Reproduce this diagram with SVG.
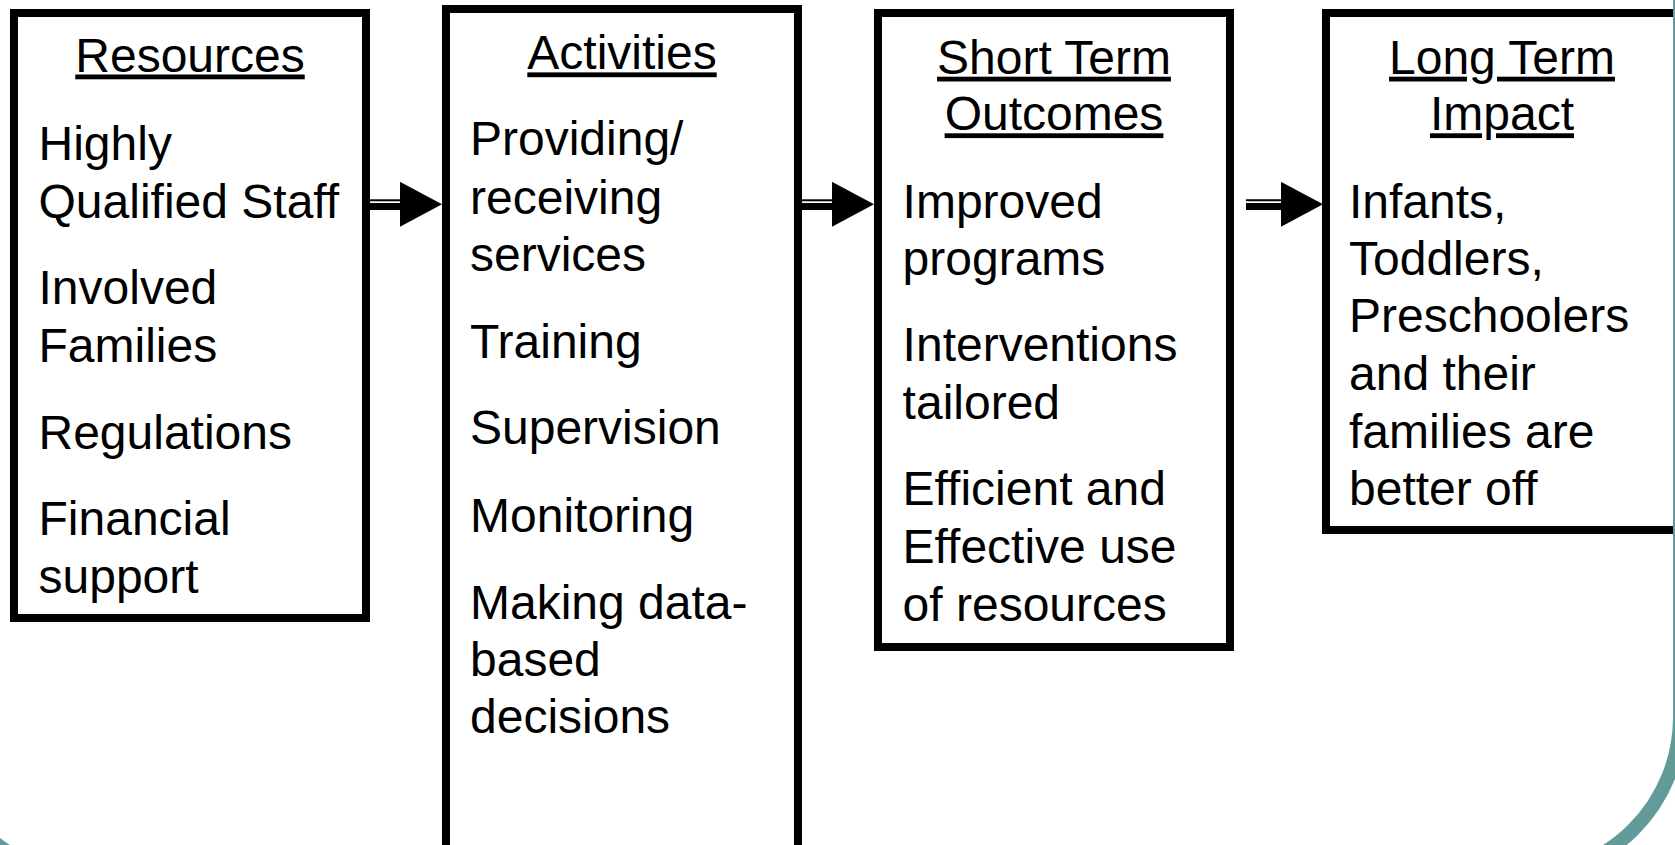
<svg xmlns="http://www.w3.org/2000/svg" width="1675" height="845" viewBox="0 0 1675 845">
<style>
  .box { fill: #ffffff; stroke: #000000; stroke-width: 8; }
  .t { font-family: "Liberation Sans", Arial, sans-serif; font-size: 48px; fill: #000000; }
  .title { text-anchor: middle; text-decoration: underline; }
  .thin { stroke: #000000; stroke-width: 2; }
  .thick { stroke: #000000; stroke-width: 7; }
  .frame { fill: none; stroke: #629B99; stroke-width: 14; }
</style>
<defs>
  <marker id="head" viewBox="0 0 42 45" refX="0" refY="24.7" markerWidth="42" markerHeight="45" markerUnits="userSpaceOnUse" orient="auto">
    <path d="M0,0 L42,22.5 L0,45 Z" fill="#000000"/>
  </marker>
</defs>
<rect x="0" y="0" width="1675" height="845" fill="#ffffff"/>

<g id="resources">
  <rect class="box" x="14" y="13" width="352" height="605"/>
  <text class="t title" x="190" y="71.5">Resources</text>
  <text class="t" x="38.5" y="160.2">Highly</text>
  <text class="t" x="38.5" y="217.9">Qualified Staff</text>
  <text class="t" x="38.5" y="304.4">Involved</text>
  <text class="t" x="38.5" y="362.1">Families</text>
  <text class="t" x="38.5" y="448.6">Regulations</text>
  <text class="t" x="38.5" y="535.2">Financial</text>
  <text class="t" x="38.5" y="592.8">support</text>
</g>

<g id="activities">
  <rect class="box" x="446" y="9" width="352" height="840"/>
  <text class="t title" x="622" y="69.4">Activities</text>
  <text class="t" x="470" y="154.9">Providing/</text>
  <text class="t" x="470" y="213.6">receiving</text>
  <text class="t" x="470" y="271.3">services</text>
  <text class="t" x="470" y="357.8">Training</text>
  <text class="t" x="470" y="444.3">Supervision</text>
  <text class="t" x="470" y="531.9">Monitoring</text>
  <text class="t" x="470" y="618.5">Making data-</text>
  <text class="t" x="470" y="676.2">based</text>
  <text class="t" x="470" y="732.8">decisions</text>
</g>

<g id="short-term-outcomes">
  <rect class="box" x="878" y="13" width="352" height="634"/>
  <text class="t title" x="1054" y="73.7">Short Term</text>
  <text class="t title" x="1054" y="130.3">Outcomes</text>
  <text class="t" x="902.6" y="217.9">Improved</text>
  <text class="t" x="902.6" y="274.5">programs</text>
  <text class="t" x="902.6" y="361">Interventions</text>
  <text class="t" x="902.6" y="418.7">tailored</text>
  <text class="t" x="902.6" y="505.2">Efficient and</text>
  <text class="t" x="902.6" y="562.9">Effective use</text>
  <text class="t" x="902.6" y="620.6">of resources</text>
</g>

<g id="long-term-impact">
  <rect class="box" x="1326" y="13" width="352" height="517"/>
  <text class="t title" x="1502" y="73.7">Long Term</text>
  <text class="t title" x="1502" y="130.3">Impact</text>
  <text class="t" x="1349" y="217.9">Infants,</text>
  <text class="t" x="1349" y="274.5">Toddlers,</text>
  <text class="t" x="1349" y="332.2">Preschoolers</text>
  <text class="t" x="1349" y="389.9">and their</text>
  <text class="t" x="1349" y="447.6">families are</text>
  <text class="t" x="1349" y="505.2">better off</text>
</g>

<g id="connectors">
  <g id="arrow-1">
    <line class="thin" x1="370" y1="200.3" x2="400" y2="200.3"/>
    <line class="thick" x1="370" y1="206.5" x2="400" y2="206.5" marker-end="url(#head)"/>
  </g>
  <g id="arrow-2">
    <line class="thin" x1="802" y1="200.3" x2="832" y2="200.3"/>
    <line class="thick" x1="802" y1="206.5" x2="832" y2="206.5" marker-end="url(#head)"/>
  </g>
  <g id="arrow-3">
    <line class="thin" x1="1246" y1="200.3" x2="1281" y2="200.3"/>
    <line class="thick" x1="1246" y1="206.5" x2="1281" y2="206.5" marker-end="url(#head)"/>
  </g>
</g>

<rect class="frame" x="-67" y="-300" width="1747" height="1176" rx="159" ry="159"/>
</svg>
